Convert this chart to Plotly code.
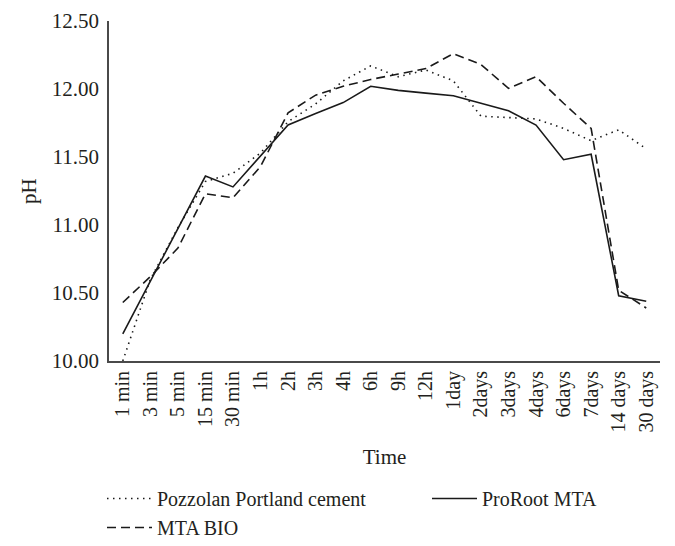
import plotly.graph_objects as go

categories = ["1 min", "3 min", "5 min", "15 min", "30 min", "1h", "2h", "3h", "4h",
              "6h", "9h", "12h", "1day", "2days", "3days", "4days", "6days", "7days",
              "14 days", "30 days"]

pozzolan = [10.00, 10.60, 10.98, 11.32, 11.38, 11.53, 11.76, 11.89, 12.06, 12.17,
            12.09, 12.14, 12.06, 11.80, 11.79, 11.78, 11.71, 11.62, 11.70, 11.56]

proroot = [10.20, 10.59, 10.97, 11.36, 11.28, 11.51, 11.735, 11.82, 11.90, 12.02,
           11.99, 11.97, 11.95, 11.895, 11.84, 11.735, 11.48, 11.52, 10.48, 10.44]

mtabio = [10.43, 10.62, 10.83, 11.23, 11.20, 11.43, 11.825, 11.955, 12.02, 12.07,
          12.11, 12.15, 12.26, 12.18, 12.005, 12.09, 11.895, 11.71, 10.52, 10.39]

y_ticks = [10.0, 10.5, 11.0, 11.5, 12.0, 12.5]

FONT = "Liberation Serif"
TXT = "#231f20"
W, H = 675, 546
PLOT_W = W - 101 - 23

fig = go.Figure()
fig.add_trace(go.Scatter(x=categories, y=pozzolan, mode="lines",
                         name="Pozzolan Portland cement", legend="legend",
                         line=dict(color="#1a1a1a", width=1.6, dash="1.5px,4.5px")))
fig.add_trace(go.Scatter(x=categories, y=proroot, mode="lines",
                         name="ProRoot MTA", legend="legend2",
                         line=dict(color="#1a1a1a", width=1.6)))
fig.add_trace(go.Scatter(x=categories, y=mtabio, mode="lines",
                         name="MTA BIO", legend="legend",
                         line=dict(color="#1a1a1a", width=1.6, dash="9px,5px")))

legend_common = dict(orientation="v", yanchor="top", xanchor="left",
                     xref="container", yref="container", itemwidth=45,
                     font=dict(family=FONT, size=20, color=TXT),
                     bgcolor="rgba(0,0,0,0)", tracegroupgap=0)

fig.update_layout(
    width=W, height=H,
    margin=dict(l=101, r=23, t=13, b=193, autoexpand=False),
    paper_bgcolor="white", plot_bgcolor="white",
    font=dict(family=FONT, size=20, color=TXT),
    showlegend=True,
    legend=dict(x=94 / W, y=1 - 471 / H, **legend_common),
    legend2=dict(x=419 / W, y=1 - 471 / H, **legend_common),
    annotations=[dict(text="pH", textangle=-90, xref="paper", yref="paper",
                      x=-80 / PLOT_W, y=0.5, xanchor="center", yanchor="middle",
                      showarrow=False, font=dict(family=FONT, size=21, color=TXT))],
)
fig.update_xaxes(type="category", range=[-0.5, 19.5], showline=True, linecolor="#4a4a4a",
                 linewidth=1.8, showgrid=False, zeroline=False, ticks="", tickangle=-90,
                 automargin=True,
                 tickfont=dict(family=FONT, size=20, color=TXT),
                 title=dict(text="Time", standoff=18, font=dict(family=FONT, size=21, color=TXT)))
fig.update_yaxes(range=[10, 12.5], tickvals=y_ticks, tickformat=".2f", showline=True,
                 linecolor="#4a4a4a", linewidth=1.8, showgrid=False, zeroline=False,
                 ticks="", ticklabelstandoff=4, automargin=True,
                 tickfont=dict(family=FONT, size=21, color=TXT))

fig.write_html("out.html")
